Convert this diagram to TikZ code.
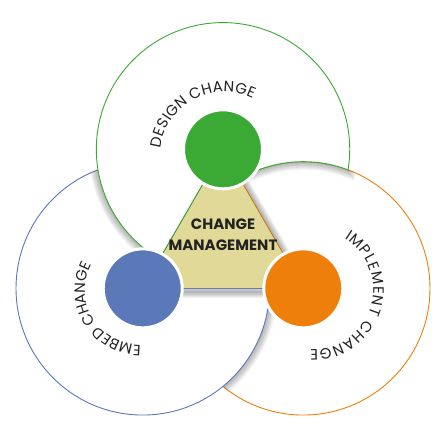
\documentclass[tikz,border=0pt]{standalone}
\usepackage{fontspec}
\setmainfont{Poppins}
\usetikzlibrary{decorations.text,calc}
\definecolor{cgreen}{HTML}{3AAA35}
\definecolor{cblue}{HTML}{5B79B8}
\definecolor{corange}{HTML}{EE7F0B}
\definecolor{ckhaki}{HTML}{E1D998}
\definecolor{ctext}{HTML}{222222}
\tikzset{
  bigring/.style={line width=0.9pt},
  shadowline/.style={black, opacity=0.04},
  smalldisk/.style={draw=white, line width=3pt},
  arclabel/.style={decorate, decoration={text along path, text align={fit to path}, text={|\fontsize{15pt}{15pt}\selectfont\color{ctext}|#1}}},
  centertext/.style={anchor=base, text=ctext, font=\fontsize{15pt}{15pt}\selectfont\bfseries, inner sep=0pt}
}
\begin{document}
\begin{tikzpicture}[x=1pt,y=1pt]
\useasboundingbox (0,0) rectangle (445,448);
\def\R{126.7pt}
\coordinate (C) at (223,206);
\coordinate (G) at ($(C)+(90:92.7pt)$);
\coordinate (B) at ($(C)+(210:92.7pt)$);
\coordinate (O) at ($(C)+(330:92.7pt)$);
\def\greenshape{($(G)+(-9.32:\R)$) arc[start angle=-9.32, end angle=249.32, radius=\R] arc[start angle=170.68, end angle=69.32, radius=\R] -- cycle}
% orange (bottom)
\fill[white] (O) circle[radius=\R];
\draw[corange, bigring] (O) circle[radius=\R];
% blue shadow on orange
\begin{scope}
  \clip (O) circle[radius=\R];
  \foreach \w in {2,4,...,16} \draw[shadowline, line width=\w pt] (B) circle[radius=\R];
\end{scope}
\fill[white] (B) circle[radius=\R];
\draw[cblue, bigring] (B) circle[radius=\R];
% green shadow
\begin{scope}
  \clip (B) circle[radius=\R] (O) circle[radius=\R];
  \foreach \w in {2,4,...,16} \draw[shadowline, line width=\w pt] \greenshape;
\end{scope}
\fill[white] \greenshape;
\draw[cgreen, bigring] \greenshape;
% triangle shadow
\foreach \w in {2,4,...,12}
  \draw[shadowline, opacity=0.05, line width=\w pt, line join=round] ($(G)+(3,-3.5)$) -- ($(B)+(3,-3.5)$) -- ($(O)+(3,-3.5)$) -- cycle;
\fill[ckhaki] (G) -- (B) -- (O) -- cycle;
\draw[cgreen!85!black, line width=0.8pt] (G) -- (B);
\draw[corange!85!black, line width=0.8pt] (G) -- (O);
\draw[cblue!70!gray, line width=0.8pt] (B) -- (O);
% small disks
\node[circle, smalldisk, fill=cgreen, minimum size=79pt, inner sep=0pt] (g) at (G) {};
\node[circle, smalldisk, fill=cblue, minimum size=79pt, inner sep=0pt] (b) at (B) {};
\node[circle, smalldisk, fill=corange, minimum size=79pt, inner sep=0pt] (o) at (O) {};
% centre text
\node[centertext] (t1) at (223,218) {CHANGE};
\node[centertext] (t2) at (223,197.3) {MANAGEMENT};
% arc labels
\path[arclabel={DESIGN CHANGE}] ($(224.3,292.1)+(173:64pt)$) arc[start angle=173, end angle=63.5, radius=64pt];
\path[arclabel={IMPLEMENT CHANGE}] ($(312.8,158.5)+(58.2:60.5pt)$) arc[start angle=58.2, end angle=-92.4, radius=60.5pt];
\path[arclabel={EMBED CHANGE}] ($(140,158)+(271:55pt)$) arc[start angle=271, end angle=152, radius=55pt];
\end{tikzpicture}
\end{document}
